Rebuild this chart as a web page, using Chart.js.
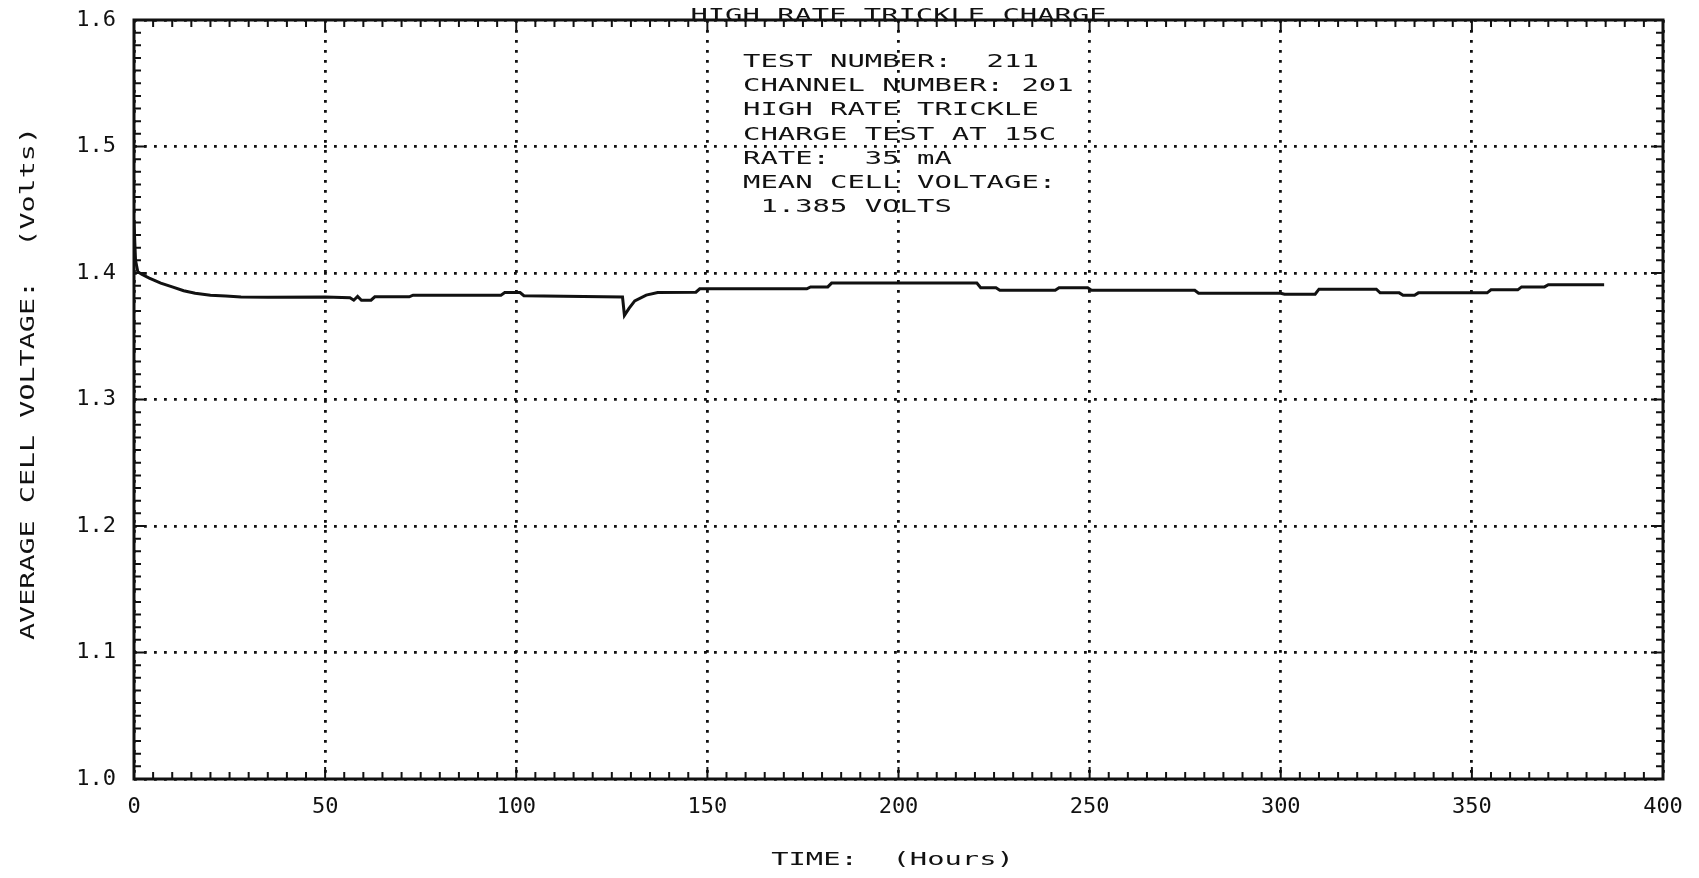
<!DOCTYPE html>
<html>
<head>
<meta charset="utf-8">
<title>High Rate Trickle Charge</title>
<script src="https://cdn.jsdelivr.net/npm/chart.js@4.4.1/dist/chart.umd.min.js"></script>
<style>
  html, body { margin: 0; padding: 0; background: #fff; }
  canvas { display: block; }
</style>
</head>
<body>
<canvas id="trickleChart" width="1699" height="878"></canvas>
<script>
// time in hours, average cell voltage in volts
const hours = [0, 0.4, 1, 2, 4, 7, 10, 13, 16, 20,
  24, 28, 35, 50, 56.5, 57.5, 58.5, 59.5, 62, 63,
  72, 73, 96, 97, 101, 102, 127.8, 128.3, 129.5, 131,
  134, 137, 147, 148, 176, 177, 181.5, 182.5, 220.5, 221.5,
  225.5, 226.5, 241, 242, 249.5, 250.5, 277.5, 278.5, 300, 301,
  309, 310, 325, 326, 331, 332, 335, 336, 354, 355,
  362, 363, 369, 370, 384.6];
const volts = [1.44, 1.41, 1.401, 1.399, 1.396, 1.392, 1.389, 1.386, 1.384, 1.3825,
  1.3818, 1.381, 1.3808, 1.381, 1.3805, 1.3785, 1.3815, 1.3785, 1.3785, 1.3812,
  1.3812, 1.3825, 1.3825, 1.3845, 1.3845, 1.382, 1.381, 1.3665, 1.372, 1.378,
  1.3825, 1.3845, 1.3848, 1.3875, 1.3875, 1.389, 1.389, 1.392, 1.392, 1.3883,
  1.3883, 1.3864, 1.3864, 1.3883, 1.3883, 1.3864, 1.3864, 1.384, 1.384, 1.3832,
  1.3832, 1.3872, 1.3872, 1.3843, 1.3843, 1.3824, 1.3824, 1.3843, 1.3843, 1.3867,
  1.3867, 1.389, 1.389, 1.3907, 1.3907];

const xTicks = [0, 50, 100, 150, 200, 250, 300, 350, 400];
const yTicks = [1.0, 1.1, 1.2, 1.3, 1.4, 1.5, 1.6];

const plotTitle = "HIGH RATE TRICKLE CHARGE";
const xTitle = "TIME:  (Hours)";
const yTitle = "AVERAGE CELL VOLTAGE:  (Volts)";
const infoLines = [
  "TEST NUMBER:  211",
  "CHANNEL NUMBER: 201",
  "HIGH RATE TRICKLE",
  "CHARGE TEST AT 15C",
  "RATE:  35 mA",
  "MEAN CELL VOLTAGE:",
  " 1.385 VOLTS"
];

const INK = "#111";
const MONO = '"DejaVu Sans Mono", "Liberation Mono", monospace';

// wide plotter-style lettering
function plotText(ctx, str, x, y, size, sx, align) {
  ctx.save();
  ctx.font = size + "px " + MONO;
  ctx.fillStyle = INK;
  ctx.textAlign = align;
  ctx.textBaseline = "alphabetic";
  ctx.translate(x, y);
  ctx.scale(sx, 1);
  ctx.fillText(str, 0, 0);
  ctx.restore();
}

const plotterFrame = {
  id: "plotterFrame",
  afterDatasetsDraw(chart) {
    const { ctx, chartArea: a, scales: { x, y } } = chart;
    ctx.save();
    ctx.strokeStyle = INK;
    ctx.lineWidth = 2;
    ctx.beginPath();
    // inward ticks, every 5 hours and every 0.01 V
    for (let h = 0; h <= 400; h += 5) {
      const px = x.getPixelForValue(h);
      const len = h % 50 === 0 ? 12 : 7;
      ctx.moveTo(px, a.bottom); ctx.lineTo(px, a.bottom - len);
      ctx.moveTo(px, a.top); ctx.lineTo(px, a.top + len);
    }
    for (let i = 0; i <= 60; i++) {
      const py = y.getPixelForValue(1 + i / 100);
      const len = i % 10 === 0 ? 12 : 7;
      ctx.moveTo(a.left, py); ctx.lineTo(a.left + len, py);
      ctx.moveTo(a.right, py); ctx.lineTo(a.right - len, py);
    }
    ctx.stroke();
    ctx.lineWidth = 3;
    ctx.strokeRect(a.left, a.top, a.right - a.left, a.bottom - a.top);
    ctx.restore();
  },
  afterDraw(chart) {
    const { ctx, chartArea: a } = chart;
    const cx = (a.left + a.right) / 2;
    plotText(ctx, plotTitle, cx, a.top + 1, 18, 1.6, "center");
    plotText(ctx, xTitle, cx - 6, 865, 18, 1.6, "center");

    ctx.save();
    ctx.translate(34, (a.top + a.bottom) / 2 - 16);
    ctx.rotate(-Math.PI / 2);
    plotText(ctx, yTitle, 0, 0, 20, 1.42, "center");
    ctx.restore();

    infoLines.forEach((line, i) => {
      plotText(ctx, line, 743, 67 + i * 24.2, 17, 1.7, "left");
    });
  }
};

const ctx = document.getElementById("trickleChart").getContext("2d");
new Chart(ctx, {
  type: "line",
  data: {
    datasets: [{
      data: hours.map((h, i) => ({ x: h, y: volts[i] })),
      borderColor: INK,
      borderWidth: 3,
      pointRadius: 0,
      tension: 0,
      fill: false
    }]
  },
  options: {
    responsive: false,
    animation: false,
    devicePixelRatio: 1,
    layout: { padding: { top: 20, right: 36, bottom: 0, left: 0 } },
    plugins: {
      legend: { display: false },
      tooltip: { enabled: false },
      title: { display: false }
    },
    scales: {
      x: {
        type: "linear",
        min: 0,
        max: 400,
        afterBuildTicks: (s) => { s.ticks = xTicks.map((v) => ({ value: v })); },
        afterFit: (s) => {
          s.height = 99;
          s.paddingLeft = 0;
          s.paddingRight = 0;
        },
        grid: { color: INK, lineWidth: 2.8, drawTicks: false },
        border: { display: false, dash: [2.8, 7.2] },
        ticks: {
          padding: 15,
          color: INK,
          font: { family: MONO, size: 22 },
          maxRotation: 0,
          callback: (v) => String(v)
        }
      },
      y: {
        type: "linear",
        min: 1.0,
        max: 1.6,
        afterBuildTicks: (s) => { s.ticks = yTicks.map((v) => ({ value: v })); },
        afterFit: (s) => {
          s.width = 134;
          s.paddingTop = 0;
          s.paddingBottom = 0;
        },
        grid: { color: INK, lineWidth: 2.8, drawTicks: false },
        border: { display: false, dash: [2.8, 7.2] },
        ticks: {
          padding: 18,
          color: INK,
          font: { family: MONO, size: 22 },
          callback: (v) => v.toFixed(1)
        }
      }
    }
  },
  plugins: [plotterFrame]
});
</script>
</body>
</html>
